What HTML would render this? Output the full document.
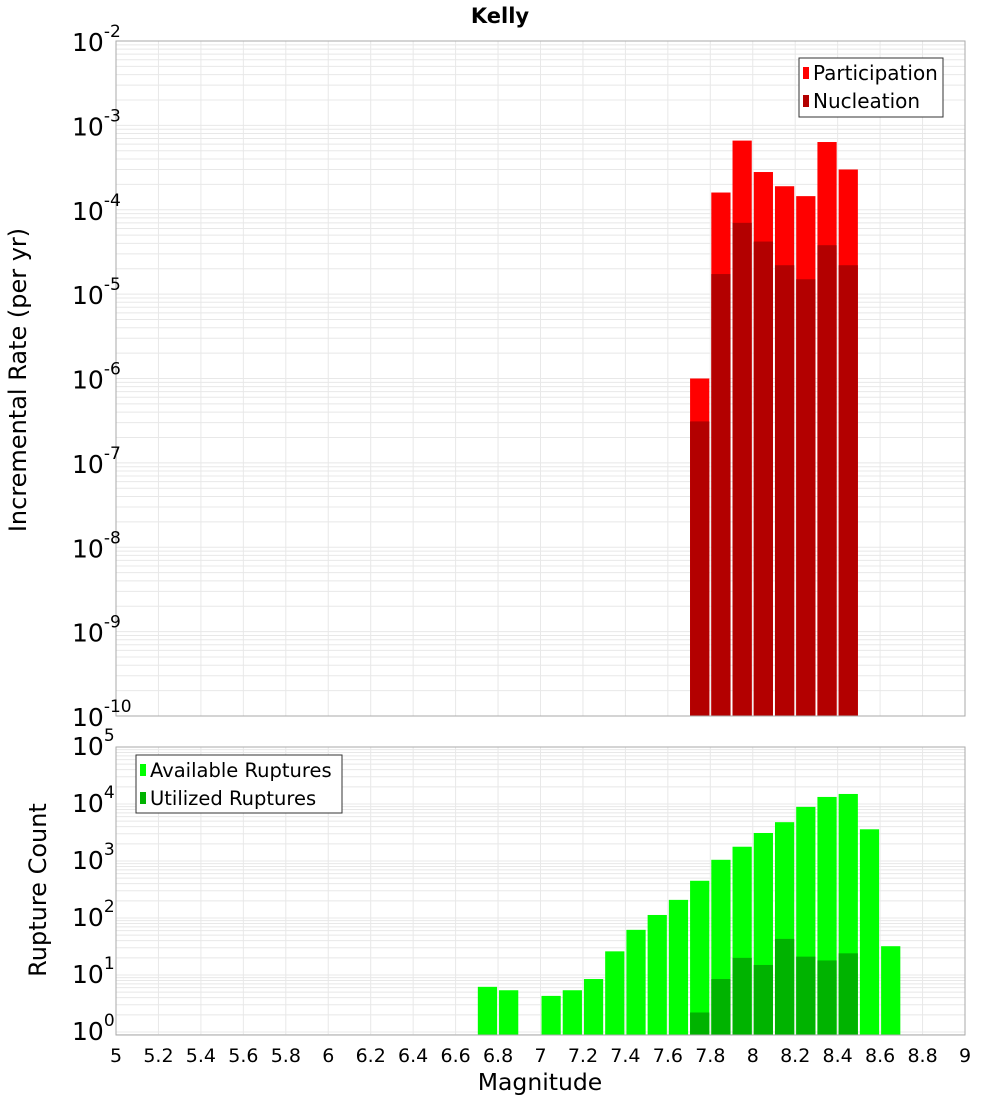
<!DOCTYPE html>
<html><head><meta charset="utf-8"><style>
body{margin:0;background:#fff;font-family:"Liberation Sans","DejaVu Sans",sans-serif}
svg text{font-family:"DejaVu Sans","Liberation Sans",sans-serif}
</style></head><body>
<svg id="c" width="1000" height="1100" xmlns="http://www.w3.org/2000/svg"></svg>
<script>
const magBins=[7.75,7.85,7.95,8.05,8.15,8.25,8.35,8.45];
const participation=[1.0e-6,1.6e-4,6.6e-4,2.8e-4,1.9e-4,1.45e-4,6.35e-4,3.0e-4];
const nucleation=[3.1e-7,1.73e-5,7.0e-5,4.2e-5,2.2e-5,1.5e-5,3.8e-5,2.2e-5];
const availBins=[6.75,6.85,7.05,7.15,7.25,7.35,7.45,7.55,7.65,7.75,7.85,7.95,8.05,8.15,8.25,8.35,8.45,8.55,8.65];
const available=[6.2,5.4,4.3,5.4,8.5,26,62,113,208,450,1050,1780,3100,4800,8900,13300,15000,3600,32];
const utilBins=[7.75,7.85,7.95,8.05,8.15,8.25,8.35,8.45];
const utilized=[2.2,8.5,20,15,43,21,18,24];
const xTicks=[5,5.2,5.4,5.6,5.8,6,6.2,6.4,6.6,6.8,7,7.2,7.4,7.6,7.8,8,8.2,8.4,8.6,8.8,9];
const topExp=[-2,-3,-4,-5,-6,-7,-8,-9,-10];
const botExp=[5,4,3,2,1,0];
const NS="http://www.w3.org/2000/svg",svg=document.getElementById('c');
function el(t,a,txt){const e=document.createElementNS(NS,t);for(const k in a)e.setAttribute(k,a[k]);if(txt!==undefined)e.textContent=txt;svg.appendChild(e);return e;}
const X0=116,X1=965;
const xs=m=>X0+(m-5)/4*(X1-X0);
const T0=41,T1=716;
const yT=v=>T0+(-2-Math.log10(v))*(T1-T0)/8;
const B0=747,B1=1035,BPD=57;
const yB=v=>Math.min(B1,B0+(5-Math.log10(v))*BPD);
function grid(top,bot,yfn,exps,name){
  for(const m of xTicks){let g=el('line',{x1:xs(m),x2:xs(m),y1:top,y2:bot,stroke:'#e8e8e8','stroke-width':1});}
  for(const e of exps)for(let k=1;k<10;k++){const y=yfn(k*Math.pow(10,e));if(y<top-0.5||y>bot)continue;let g=el('line',{x1:X0,x2:X1,y1:y,y2:y,stroke:'#e8e8e8','stroke-width':1});}
}
let t=el('text',{x:500,y:23,'text-anchor':'middle','font-size':21,'font-weight':'bold'},'Kelly');
grid(T0,T1,yT,topExp.concat([-11]),'top');
const bw=(X1-X0)/40;
magBins.forEach((m,i)=>{
  let r=el('rect',{x:xs(m)-bw/2+1,y:yT(participation[i]),width:bw-2,height:T1-yT(participation[i]),fill:'#ff0000'});
  let r2=el('rect',{x:xs(m)-bw/2+1,y:yT(nucleation[i]),width:bw-2,height:T1-yT(nucleation[i]),fill:'#b30000'});
});
let f=el('rect',{x:X0,y:T0,width:X1-X0,height:T1-T0,fill:'none',stroke:'#aaa'});
topExp.forEach(e=>{const y=yT(Math.pow(10,e));let g=el('text',{x:72,y:y+10,'font-size':25},'10');
  let s=el('tspan',{dy:-14,'font-size':17});s.textContent=String(e);g.appendChild(s);});
let yl=el('text',{transform:'translate(26,380) rotate(-90)','text-anchor':'middle','font-size':24},'Incremental Rate (per yr)');
let lg=el('rect',{x:799,y:58,width:144,height:59,fill:'#fff',stroke:'#333'});
let a=el('rect',{x:803,y:67,width:6,height:12,fill:'#ff0000'});
a=el('text',{x:813,y:80,'font-size':20},'Participation');
a=el('rect',{x:803,y:95,width:6,height:12,fill:'#b30000'});
a=el('text',{x:813,y:108,'font-size':20},'Nucleation');
grid(B0,B1,yB,[-1].concat(botExp),'bottom');
availBins.forEach((m,i)=>{let r=el('rect',{x:xs(m)-bw/2+1,y:yB(available[i]),width:bw-2,height:B1-yB(available[i]),fill:'#00ff00'});});
utilBins.forEach((m,i)=>{let r=el('rect',{x:xs(m)-bw/2+1,y:yB(utilized[i]),width:bw-2,height:B1-yB(utilized[i]),fill:'#00b300'});});
f=el('rect',{x:X0,y:B0,width:X1-X0,height:B1-B0,fill:'none',stroke:'#aaa'});
botExp.forEach(e=>{const y=B0+(5-e)*BPD;let g=el('text',{x:72,y:y+8,'font-size':25},'10');
  let s=el('tspan',{dy:-14,'font-size':17});s.textContent=String(e);g.appendChild(s);});
yl=el('text',{transform:'translate(46,890) rotate(-90)','text-anchor':'middle','font-size':24},'Rupture Count');
lg=el('rect',{x:136,y:755,width:206,height:58,fill:'#fff',stroke:'#333'});
a=el('rect',{x:140,y:764,width:6,height:12,fill:'#00ff00'});
a=el('text',{x:150,y:777,'font-size':19.5},'Available Ruptures');
a=el('rect',{x:140,y:792,width:6,height:12,fill:'#00b300'});
a=el('text',{x:150,y:805,'font-size':19.5},'Utilized Ruptures');
xTicks.forEach(m=>{let g=el('text',{x:xs(m),y:1062,'text-anchor':'middle','font-size':19},String(m));});
let xl=el('text',{x:540,y:1090,'text-anchor':'middle','font-size':23.5},'Magnitude');
</script>
</body></html>
